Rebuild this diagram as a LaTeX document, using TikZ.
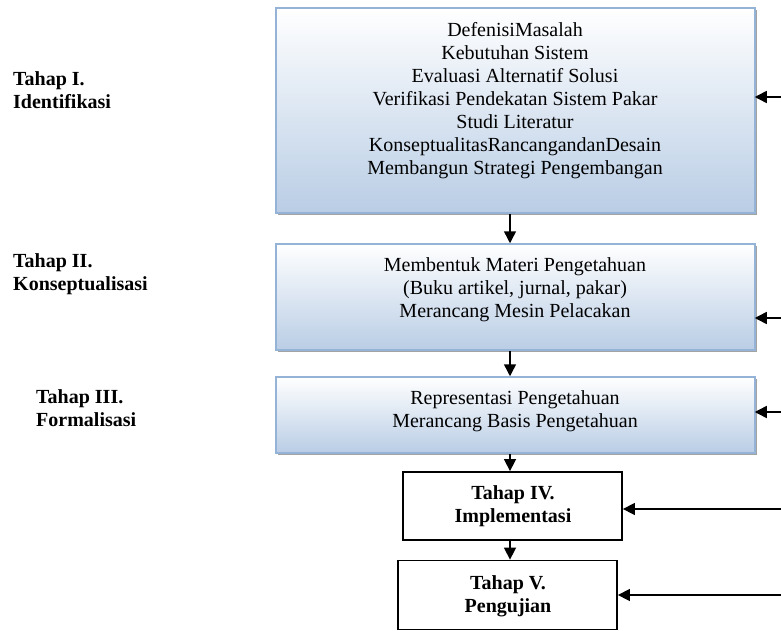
\documentclass[tikz,border=0pt]{standalone}
\usepackage{fontspec}
\setmainfont{Liberation Serif}
\usetikzlibrary{arrows.meta,shadows}
\definecolor{boxblue}{RGB}{185,205,229}
\definecolor{boxedge}{RGB}{149,179,215}
\begin{document}
\begin{tikzpicture}[x=1pt,y=-1pt,
  bluebox/.style={rectangle, draw=boxedge, line width=1.5pt, top color=white, bottom color=boxblue, inner sep=0pt,
    drop shadow={shadow xshift=2pt, shadow yshift=-2pt, fill=black!45, opacity=0.8}},
  whitebox/.style={rectangle, draw=black, line width=1.8pt, fill=white, inner sep=0pt},
  txt/.style={align=center, inner sep=0pt, font=\fontsize{20}{23}\selectfont},
  btxt/.style={align=center, inner sep=0pt, font=\bfseries\fontsize{20}{23}\selectfont},
  lbl/.style={align=left, inner sep=0pt, anchor=west, font=\bfseries\fontsize{20}{23.5}\selectfont},
  arr/.style={line width=1.5pt, -{Triangle[length=12pt,width=12pt]}}]
\useasboundingbox (0,0) rectangle (781,631);

% blue boxes
\node[bluebox, minimum width=479pt, minimum height=205pt] (b1) at (515.5,110.5) {};
\node[bluebox, minimum width=479pt, minimum height=106pt] (b2) at (515.5,297) {};
\node[bluebox, minimum width=479pt, minimum height=76pt] (b3) at (515.5,415) {};
% white boxes
\node[whitebox, minimum width=219pt, minimum height=68pt] (b4) at (512.5,506) {};
\node[whitebox, minimum width=219pt, minimum height=69pt] (b5) at (507.5,595) {};

% box texts
\node[txt] (t1) at (515,101) {DefenisiMasalah\\Kebutuhan Sistem\\Evaluasi Alternatif Solusi\\Verifikasi Pendekatan Sistem Pakar\\Studi Literatur\\KonseptualitasRancangandanDesain\\Membangun Strategi Pengembangan};
\node[txt] (t2) at (515,290) {Membentuk Materi Pengetahuan\\(Buku artikel, jurnal, pakar)\\Merancang Mesin Pelacakan};
\node[txt] (t3) at (515,411.5) {Representasi Pengetahuan\\Merancang Basis Pengetahuan};
\node[btxt] (t4) at (513,506.5) {Tahap IV.\\Implementasi};
\node[btxt] (t5) at (508,596) {Tahap V.\\Pengujian};

% left labels
\node[lbl] (l1) at (13,90) {Tahap I.\\Identifikasi};
\node[lbl] (l2) at (13,274) {Tahap II.\\Konseptualisasi};
\node[lbl] (l3) at (36,408) {Tahap III.\\Formalisasi};

% vertical arrows
\coordinate (vx) at (510,0);
\draw[arr] (b1.south -| vx) -- (b2.north -| vx);
\draw[arr] (b2.south -| vx) -- (b3.north -| vx);
\draw[arr] (b3.south -| vx) -- (b4.north -| vx);
\draw[arr] (b4.south -| vx) -- (b5.north -| vx);

% right-side arrows
\coordinate (r1) at (781,97);
\coordinate (r2) at (781,318);
\coordinate (r3) at (781,412);
\coordinate (r4) at (781,509);
\coordinate (r5) at (781,595);
\draw[arr, shorten >=-1pt] (r1) -- (r1 -| b1.east);
\draw[arr, shorten >=-1pt] (r2) -- (r2 -| b2.east);
\draw[arr, shorten >=-1pt] (r3) -- (r3 -| b3.east);
\draw[arr] (r4) -- (r4 -| b4.east);
\draw[arr] (r5) -- (r5 -| b5.east);
\end{tikzpicture}
\end{document}
